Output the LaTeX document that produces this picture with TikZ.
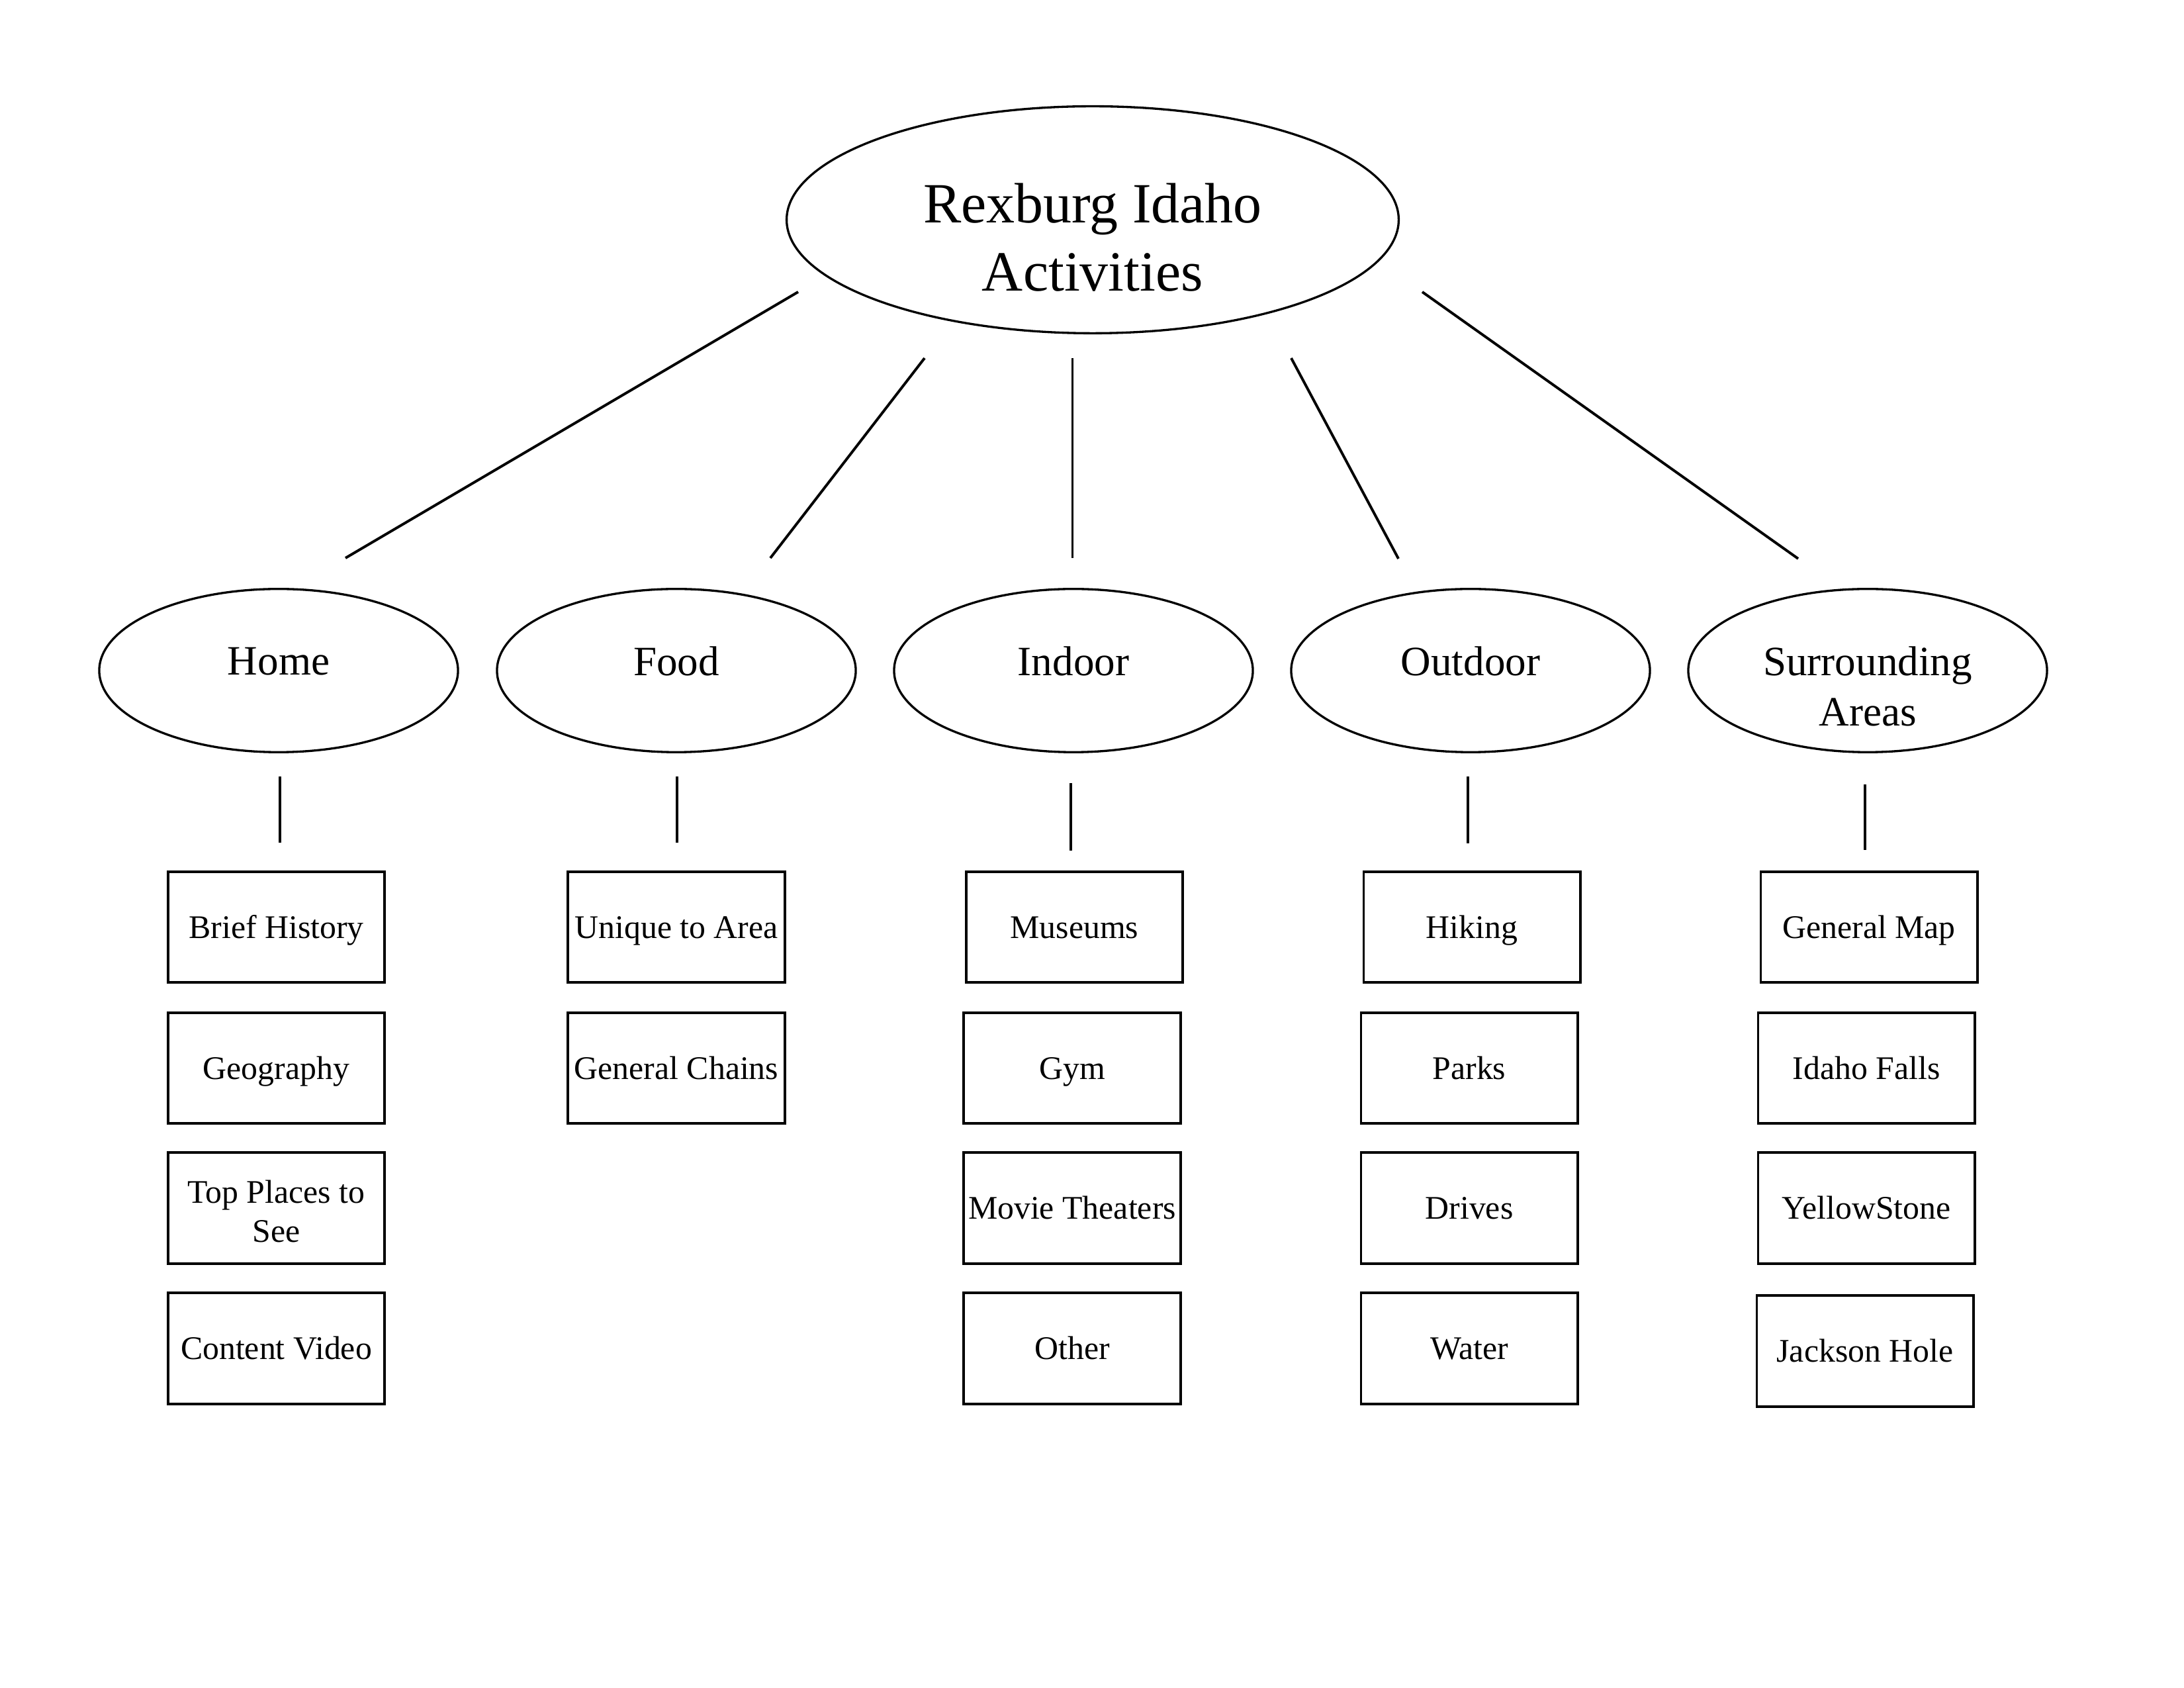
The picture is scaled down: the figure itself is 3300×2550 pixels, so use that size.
\documentclass[tikz,border=0pt]{standalone}
\usepackage{fontspec}
\setmainfont{Liberation Serif}
\usetikzlibrary{shapes.geometric}
\begin{document}
\begin{tikzpicture}[x=0.2409pt,y=-0.2409pt,
  conn/.style={line width=0.95pt, line cap=butt},
  topell/.style={ellipse, draw, line width=0.8pt, minimum width=222.8pt, minimum height=82.6pt, inner sep=0pt},
  subell/.style={ellipse, draw, line width=0.8pt, minimum width=130.6pt, minimum height=59.4pt, inner sep=0pt},
  sublbl/.style={anchor=north, inner sep=0pt, align=center, font=\fontsize{15.2}{18.3}\selectfont,
    execute at begin node={\rule{0pt}{10.4pt}}},
  toplbl/.style={anchor=north, inner sep=0pt, align=center, font=\fontsize{20.7}{24.8}\selectfont,
    execute at begin node={\rule{0pt}{14.1pt}}},
  itembox/.style={rectangle, draw, line width=0.95pt, minimum width=78.8pt, minimum height=40.4pt, inner sep=0pt,
    text height=12pt, text depth=4pt, font=\fontsize{12}{14.2}\selectfont}]

\useasboundingbox (0,0) rectangle (3300,2550);

% root
\node[topell] (root) at (1651,332) {};
\node[toplbl] (rootlbl) at (1651,276) {Rexburg Idaho\\Activities};

% second level
\node[subell] (home) at (421,1013) {};
\node[sublbl] (homelbl) at (421,975.5) {Home};
\node[subell] (food) at (1022,1013) {};
\node[sublbl] (foodlbl) at (1022,975.5) {Food};
\node[subell] (indoor) at (1622,1013) {};
\node[sublbl] (indoorlbl) at (1622,975.5) {Indoor};
\node[subell] (outdoor) at (2222,1013) {};
\node[sublbl] (outdoorlbl) at (2222,975.5) {Outdoor};
\node[subell] (surr) at (2822,1013) {};
\node[sublbl] (surrlbl) at (2822,975.5) {Surrounding\\Areas};

% boxes
\node[itembox] (h1) at (417.5,1400.5) {Brief History};
\node[itembox] (h2) at (417.5,1613.5) {Geography};
\node[itembox] (h3) at (417.5,1825) {\raisebox{-1.5pt}{\begin{tabular}{@{}c@{}}Top Places to\\See\end{tabular}}};
\node[itembox] (h4) at (417.5,2037) {Content Video};

\node[itembox] (f1) at (1022,1400.5) {Unique to Area};
\node[itembox] (f2) at (1022,1613.5) {General Chains};

\node[itembox] (i1) at (1623.5,1400.5) {Museums};
\node[itembox] (i2) at (1620,1613.5) {Gym};
\node[itembox] (i3) at (1620,1825) {Movie Theaters};
\node[itembox] (i4) at (1620,2037) {Other};

\node[itembox] (o1) at (2224,1400.5) {Hiking};
\node[itembox] (o2) at (2220,1613.5) {Parks};
\node[itembox] (o3) at (2220,1825) {Drives};
\node[itembox] (o4) at (2220,2037) {Water};

\node[itembox] (s1) at (2824,1400.5) {General Map};
\node[itembox] (s2) at (2820,1613.5) {Idaho Falls};
\node[itembox] (s3) at (2820,1825) {YellowStone};
\node[itembox] (s4) at (2818,2041) {Jackson Hole};

% connector end points
\coordinate (r1) at (1206,441);   \coordinate (a1) at (522,843);
\coordinate (r2) at (1397,541);   \coordinate (a2) at (1164,843);
\coordinate (r3) at (1620.5,541); \coordinate (a3) at (1620.5,843);
\coordinate (r4) at (1951,541);   \coordinate (a4) at (2113,844);
\coordinate (r5) at (2149,441);   \coordinate (a5) at (2717,844);

\coordinate (hu) at (423,1173);  \coordinate (hd) at (423,1273);
\coordinate (fu) at (1023,1173); \coordinate (fd) at (1023,1273);
\coordinate (iu) at (1618,1183); \coordinate (id) at (1618,1285);
\coordinate (ou) at (2218,1173); \coordinate (od) at (2218,1274);
\coordinate (su) at (2818,1185); \coordinate (sd) at (2818,1284);

\draw[conn] (r1) -- (a1);
\draw[conn] (r2) -- (a2);
\draw[conn] (r3) -- (a3);
\draw[conn] (r4) -- (a4);
\draw[conn] (r5) -- (a5);

\draw[conn] (hu) -- (hd);
\draw[conn] (fu) -- (fd);
\draw[conn] (iu) -- (id);
\draw[conn] (ou) -- (od);
\draw[conn] (su) -- (sd);
\end{tikzpicture}
\end{document}
